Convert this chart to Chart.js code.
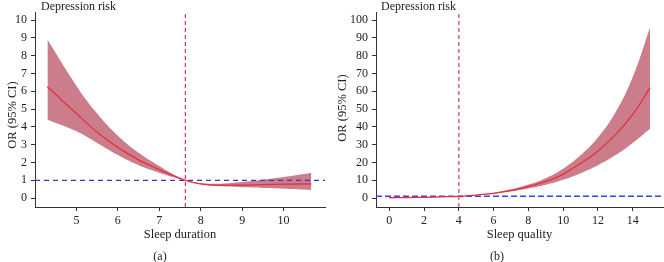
<!DOCTYPE html>
<html><head><meta charset="utf-8">
<script src="https://cdn.jsdelivr.net/npm/chart.js@4/dist/chart.umd.min.js"></script>
<style>
html,body{margin:0;padding:0;background:#fff;}
#wrap{position:relative;width:664px;height:262px;}
canvas{position:absolute;top:0;}
</style></head>
<body><div id="wrap"><canvas id="c1" width="330" height="262" style="left:0"></canvas><canvas id="c2" width="334" height="262" style="left:330px"></canvas></div>
<script>
// Panel (a): sleep duration
const durX     = [4.3, 5, 5.5, 6, 6.5, 7, 7.3, 7.63, 8, 8.5, 9, 9.5, 10, 10.67];
const durMean  = [6.25, 4.75, 3.7, 2.85, 2.15, 1.6, 1.3, 1.0, 0.8, 0.72, 0.73, 0.76, 0.78, 0.8];
const durUpper = [8.9, 6.3, 4.75, 3.5, 2.55, 1.8, 1.38, 1.02, 0.84, 0.81, 0.9, 1.03, 1.18, 1.43];
const durLower = [4.4, 3.75, 3.1, 2.42, 1.85, 1.43, 1.2, 0.98, 0.77, 0.66, 0.61, 0.57, 0.53, 0.46];
const durTicksX = [5, 6, 7, 8, 9, 10];
const durTicksY = [0, 1, 2, 3, 4, 5, 6, 7, 8, 9, 10];
const durRefX = 7.63;
// Panel (b): sleep quality
const qualX     = [0, 1, 2, 3, 4, 5, 6, 7, 8, 9, 10, 11, 12, 13, 14, 15];
const qualMean  = [0.2, 0.3, 0.45, 0.7, 1.0, 1.7, 2.7, 4.2, 6.4, 9.4, 13.5, 19.5, 26.5, 35.5, 47, 62];
const qualUpper = [0.3, 0.4, 0.55, 0.75, 1.0, 1.8, 3.0, 4.9, 7.6, 11.2, 16.5, 24, 34, 48, 68, 96];
const qualLower = [0.1, 0.2, 0.35, 0.65, 1.0, 1.6, 2.5, 3.8, 5.4, 7.5, 10.3, 14, 18.5, 24, 31, 39];
const qualTicksX = [0, 2, 4, 6, 8, 10, 12, 14];
const qualTicksY = [0, 10, 20, 30, 40, 50, 60, 70, 80, 90, 100];
const qualRefX = 4;
const refY = 1;

const FONT = "'Liberation Serif', 'DejaVu Serif', serif";
const TXT = '#222';

function pts(xs, ys){ return xs.map((x,i)=>({x:x,y:ys[i]})); }

function makeChart(id, cfg){
  const textPlugin = {
    id:'txt',
    afterDraw(chart){
      const ctx = chart.ctx, a = chart.chartArea;
      ctx.save();
      ctx.fillStyle = TXT;
      ctx.font = "12px " + FONT;
      ctx.textBaseline = 'alphabetic';
      ctx.textAlign = 'left';
      ctx.fillText('Depression risk', cfg.titleX, 10);
      ctx.textAlign = 'center';
      ctx.font = "12.5px " + FONT;
      ctx.fillText(cfg.xTitle, (a.left + a.right)/2, 238);
      ctx.font = "12px " + FONT;
      ctx.fillText(cfg.panel, cfg.panelX, 260);
      ctx.translate(cfg.yTitleX, cfg.yTitleY);
      ctx.rotate(-Math.PI/2);
      ctx.textBaseline = 'middle';
      ctx.font = "12.5px " + FONT;
      ctx.fillText('OR (95% CI)', 0, 0);
      ctx.restore();
    }
  };
  return new Chart(document.getElementById(id), {
    type:'line',
    data:{datasets:[
      {data:pts(cfg.xs, cfg.mean), borderColor:'#e8303a', borderWidth:1.3, pointRadius:0, fill:false, tension:0.4},
      {data:pts(cfg.xs, cfg.upper), borderWidth:0, borderColor:'rgba(0,0,0,0)', pointRadius:0, fill:'+1', backgroundColor:'#cc7d8c', tension:0.4},
      {data:pts(cfg.xs, cfg.lower), borderWidth:0, borderColor:'rgba(0,0,0,0)', pointRadius:0, fill:false, tension:0.4},
      {data:[{x:cfg.xMin,y:refY},{x:cfg.xMax,y:refY}], borderColor:cfg.hColor, borderWidth:cfg.hWidth, borderDash:cfg.hDash, pointRadius:0, fill:false},
      {data:[{x:cfg.refX,y:cfg.yMin},{x:cfg.refX,y:cfg.yMax}], borderColor:cfg.vColor, borderWidth:cfg.vWidth, borderDash:[4,3], pointRadius:0, fill:false}
    ]},
    options:{
      responsive:false, animation:false, devicePixelRatio:1,
      layout:{padding:{top:12, right:cfg.padRight, left:0, bottom:0}},
      plugins:{legend:{display:false}, tooltip:{enabled:false}, filler:{drawTime:'beforeDatasetsDraw'}},
      scales:{
        x:{type:'linear', min:cfg.xMin, max:cfg.xMax,
           afterBuildTicks(s){ s.ticks = cfg.ticksX.map(v=>({value:v})); },
           afterFit(s){ s.height = 55; },
           grid:{drawOnChartArea:false, drawTicks:true, tickLength:4, color:'#333'},
           border:{display:true, color:'#333', width:1},
           ticks:{color:TXT, font:{family:FONT, size:12}, padding:3, maxRotation:0}},
        y:{type:'linear', min:cfg.yMin, max:cfg.yMax,
           afterBuildTicks(s){ s.ticks = cfg.ticksY.map(v=>({value:v})); },
           afterFit(s){ s.width = cfg.yWidth; },
           grid:{drawOnChartArea:false, drawTicks:true, tickLength:4, color:'#333'},
           border:{display:true, color:'#333', width:1},
           ticks:{color:TXT, font:{family:FONT, size:12}, padding:4}}
      }
    },
    plugins:[textPlugin]
  });
}

makeChart('c1', {xs:durX, mean:durMean, upper:durUpper, lower:durLower,
  xMin:4, xMax:11, yMin:-0.5, yMax:10.45, ticksX:durTicksX, ticksY:durTicksY, refX:durRefX,
  hColor:'#3b3bb0', hWidth:1.2, hDash:[5,4], vColor:'#e0286a', vWidth:1.2,
  padRight:5, yWidth:35, titleX:41, xTitle:'Sleep duration', panel:'(a)', panelX:160,
  yTitleX:13, yTitleY:115});

makeChart('c2', {xs:qualX, mean:qualMean, upper:qualUpper, lower:qualLower,
  xMin:-0.76, xMax:15.74, yMin:-5, yMax:104.5, ticksX:qualTicksX, ticksY:qualTicksY, refX:qualRefX,
  hColor:'#3344ff', hWidth:1.5, hDash:[6,3], vColor:'#c46a94', vWidth:1.5,
  padRight:1, yWidth:46, titleX:51, xTitle:'Sleep quality', panel:'(b)', panelX:167,
  yTitleX:13, yTitleY:108});
</script></body></html>
